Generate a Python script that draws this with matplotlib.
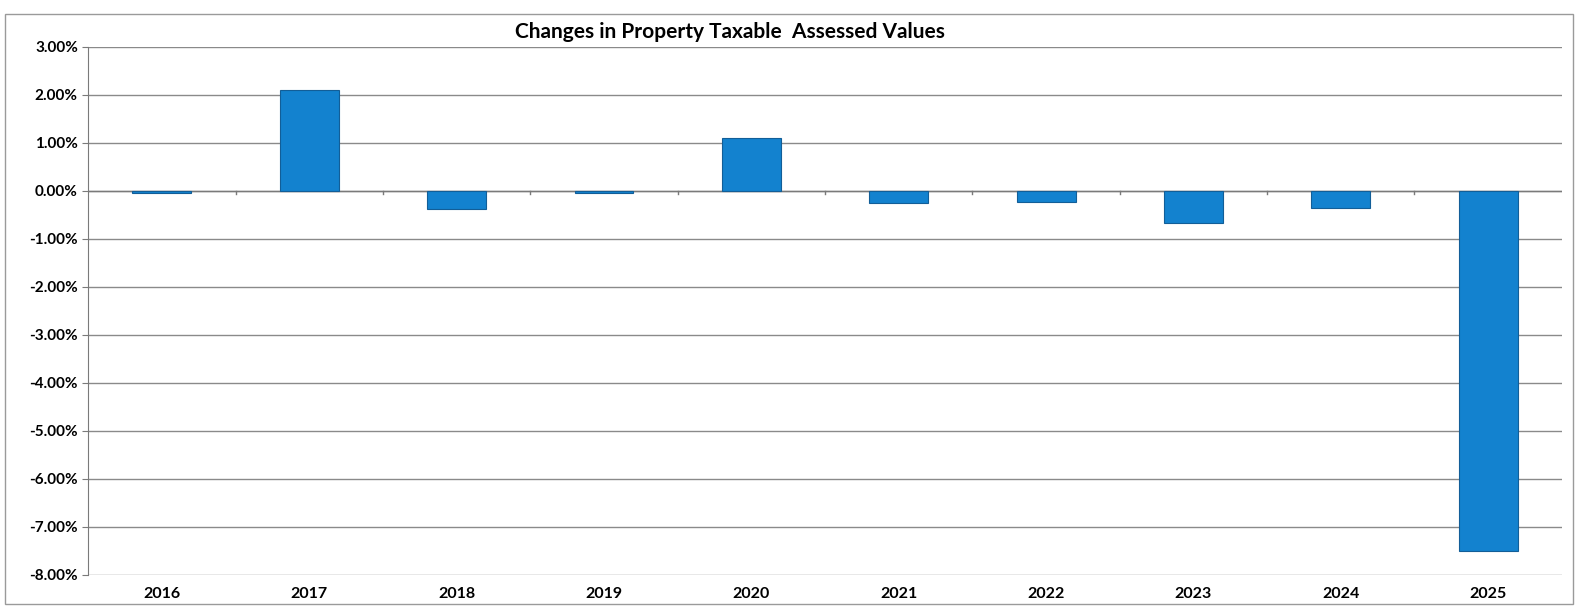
import matplotlib
matplotlib.use("Agg")
import matplotlib.pyplot as plt
from matplotlib.ticker import FuncFormatter, MultipleLocator
from matplotlib.patches import Rectangle

plt.rcParams['font.family'] = ['Lato', 'DejaVu Sans']

# Year-over-year change in taxable assessed values (%)
years = ["2016", "2017", "2018", "2019", "2020", "2021", "2022", "2023", "2024", "2025"]
changes = [-0.05, 2.1, -0.38, -0.04, 1.1, -0.25, -0.24, -0.68, -0.35, -7.5]

fig = plt.figure(figsize=(15.76, 6.16), dpi=100)
ax = fig.add_axes([0.056, 0.067, 0.935, 0.857])

x = range(len(years))
ax.bar(x, changes, width=0.4, color="#1382cf", edgecolor="#125e98", linewidth=0.8, zorder=3)

ax.set_xlim(-0.5, len(years) - 0.5)
ax.set_ylim(-8, 3)
ax.yaxis.set_major_locator(MultipleLocator(1))
ax.yaxis.set_major_formatter(FuncFormatter(lambda v, p: f"{v:.2f}%"))
ax.grid(axis="y", color="#8a8a8a", linewidth=1.0, zorder=0)

# category labels sit below the plot, ticks sit on the zero line
ax.set_xticks([])
for i, yr in enumerate(years):
    ax.text(i, -8.25, yr, ha="center", va="top", fontsize=11.5, fontweight="bold")
ax.axhline(0, color="#7a7a7a", linewidth=1.0, zorder=2)
for i in range(1, len(years)):
    ax.plot([i - 0.5, i - 0.5], [0, -0.07], color="#7a7a7a", linewidth=1.0, zorder=2)

for lbl in ax.get_yticklabels():
    lbl.set_fontweight("bold")
ax.tick_params(axis="y", labelsize=11, length=4, color="#7a7a7a")
for side in ["top", "right", "bottom"]:
    ax.spines[side].set_visible(False)
ax.spines["left"].set_color("#7a7a7a")

fig.text(0.463, 0.948, "Changes in Property Taxable  Assessed Values", ha="center", va="center",
         fontsize=15, fontweight="bold")

# thin outer frame around the chart area
fig.patches.append(Rectangle((0.003, 0.02), 0.995, 0.958, transform=fig.transFigure,
                             fill=False, edgecolor="#9a9a9a", linewidth=1.0))

fig.savefig("out.png", dpi=100)
